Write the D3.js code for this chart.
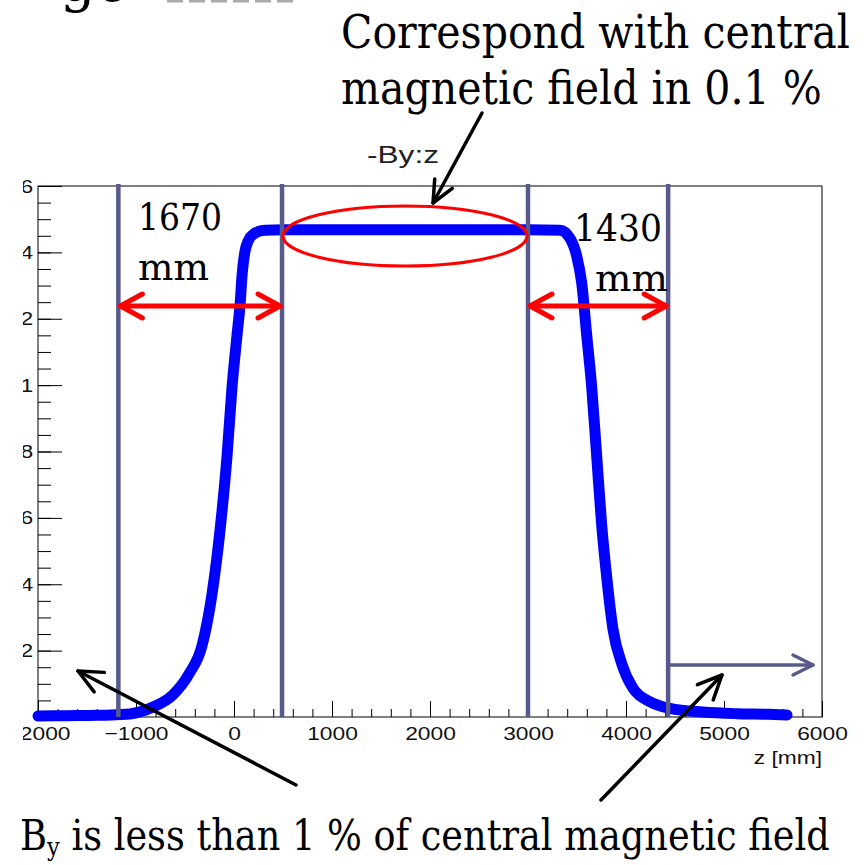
<!DOCTYPE html>
<html>
<head>
<meta charset="utf-8">
<script src="https://cdn.jsdelivr.net/npm/d3@7"></script>
<style>
  html, body { margin: 0; padding: 0; background: #fff; overflow: hidden; }
</style>
</head>
<body>
<div id="chart"></div>
<script>
// field profile -By(z)
const zValues = [-2000, -1700, -1400, -1200, -1061, -940, -827, -626, -459, -327, -224, -137, -71, -20, 31, 65, 82, 110, 149, 200, 250, 320, 500, 1000, 2000, 3000, 3327, 3429, 3497, 3548, 3599, 3650, 3701, 3752, 3803, 3867, 3956, 4071, 4245, 4449, 4786, 5133, 5450, 5643];
const byValues = [0.003, 0.004, 0.005, 0.007, 0.009, 0.017, 0.030, 0.066, 0.130, 0.214, 0.371, 0.578, 0.786, 0.994, 1.151, 1.254, 1.33, 1.40, 1.437, 1.455, 1.463, 1.467, 1.468, 1.468, 1.468, 1.468, 1.467, 1.442, 1.389, 1.308, 1.151, 0.994, 0.786, 0.578, 0.422, 0.265, 0.161, 0.087, 0.046, 0.026, 0.015, 0.010, 0.008, 0.006];

// vertical marker lines (z in mm) and the gaps between them
const markerZ = [-1180, 490, 3000, 4430];
const spanLabels = ["1670", "1430"];

const xTicks = [-2000, -1000, 0, 1000, 2000, 3000, 4000, 5000, 6000];
const xMinorTicks = d3.range(-2000, 6001, 200);
const yTicks = [0.2, 0.4, 0.6, 0.8, 1, 1.2, 1.4, 1.6];
const yMinorTicks = d3.range(0, 1.6001, 0.05);

const W = 865, H = 865;
const frame = { left: 38, right: 822, top: 186, bottom: 717 };
const serif = "Georgia, 'DejaVu Serif', serif";
const sans = "'Liberation Sans', Arial, Helvetica, sans-serif";
const markerColor = "#585a8e";

const svg = d3.select("#chart").append("svg")
    .attr("width", W)
    .attr("height", H);

svg.append("defs").append("clipPath").attr("id", "cut")
    .append("rect").attr("x", 23).attr("y", 0).attr("width", W).attr("height", H);

const x = d3.scaleLinear().domain([-2000, 6000]).range([frame.left, frame.right]);
const y = d3.scaleLinear().domain([0, 1.6]).range([frame.bottom, frame.top]);

// squeeze/stretch a text so it spans a given width
function fitText(g, str, px, py, width, size, family, anchor = "start") {
    const t = g.append("text")
        .attr("font-family", family)
        .attr("font-size", size)
        .attr("text-anchor", anchor)
        .attr("fill", "#000")
        .text(str);
    const w = t.node().getComputedTextLength();
    t.attr("transform", `translate(${px},${py}) scale(${width / w},1)`);
    return t;
}

// open chevron head pointing at (tx,ty) coming from (fx,fy)
function headPath(tx, ty, fx, fy, len, half) {
    const a = Math.atan2(ty - fy, tx - fx);
    const bx = tx - len * Math.cos(a), by = ty - len * Math.sin(a);
    const nx = -Math.sin(a) * half, ny = Math.cos(a) * half;
    return `M${bx + nx},${by + ny}L${tx},${ty}L${bx - nx},${by - ny}`;
}

function arrow(g, x1, y1, x2, y2, color, width, len, half, both = false) {
    g.append("line")
        .attr("x1", x1).attr("y1", y1).attr("x2", x2).attr("y2", y2)
        .attr("stroke", color).attr("stroke-width", width).attr("stroke-linecap", "round");
    const heads = [headPath(x2, y2, x1, y1, len, half)];
    if (both) heads.push(headPath(x1, y1, x2, y2, len, half));
    heads.forEach(p => g.append("path").attr("d", p)
        .attr("fill", "none").attr("stroke", color).attr("stroke-width", width)
        .attr("stroke-linecap", "round").attr("stroke-linejoin", "round"));
}

// 1. Frame and axes (left edge cut off like the source crop)
const axes = svg.append("g").attr("clip-path", "url(#cut)");

axes.append("rect")
    .attr("x", frame.left).attr("y", frame.top)
    .attr("width", frame.right - frame.left).attr("height", frame.bottom - frame.top)
    .attr("fill", "none").attr("stroke", "#000").attr("stroke-width", 1);

axes.append("g")
    .attr("transform", `translate(0,${frame.bottom})`)
    .call(d3.axisBottom(x).tickValues(xMinorTicks).tickSize(-8).tickFormat(""))
    .call(g => g.select(".domain").remove());

axes.append("g")
    .attr("transform", `translate(0,${frame.bottom})`)
    .call(d3.axisBottom(x).tickValues(xTicks).tickSize(-16).tickPadding(10).tickFormat(d3.format("d")))
    .call(g => g.select(".domain").remove())
    .selectAll("text")
    .attr("font-family", sans)
    .attr("font-size", 19)
    .attr("fill", "#111")
    .attr("transform", "scale(1.2,1)");

axes.append("g")
    .attr("transform", `translate(${frame.left},0)`)
    .call(d3.axisLeft(y).tickValues(yMinorTicks).tickSize(-13).tickFormat(""))
    .call(g => g.select(".domain").remove());

axes.append("g")
    .attr("transform", `translate(${frame.left},0)`)
    .call(d3.axisLeft(y).tickValues(yTicks).tickSize(-24).tickPadding(4).tickFormat(d3.format("~g")))
    .call(g => g.select(".domain").remove())
    .selectAll("text")
    .attr("font-family", sans)
    .attr("font-size", 19)
    .attr("fill", "#111")
    .attr("transform", "scale(1.2,1)");

svg.append("text")
    .attr("font-family", sans)
    .attr("font-size", 19)
    .attr("text-anchor", "end")
    .attr("fill", "#111")
    .attr("transform", `translate(${frame.right},764) scale(1.2,1)`)
    .text("z [mm]");

fitText(svg, "-By:z", 367, 163, 72, 24, sans).attr("fill", "#222");

// 2. Field curve
const pts = zValues.map((z, i) => [z, byValues[i]]);
svg.append("path")
    .datum(pts)
    .attr("d", d3.line().x(d => x(d[0])).y(d => y(d[1])).curve(d3.curveMonotoneX))
    .attr("fill", "none")
    .attr("stroke", "#0000ff")
    .attr("stroke-width", 11)
    .attr("stroke-linecap", "round")
    .attr("stroke-linejoin", "round");

// 3. Marker lines
svg.selectAll(".marker")
    .data(markerZ)
    .enter()
    .append("line")
    .attr("class", "marker")
    .attr("x1", d => x(d)).attr("x2", d => x(d))
    .attr("y1", 184).attr("y2", frame.bottom)
    .attr("stroke", markerColor)
    .attr("stroke-width", 4.5);

arrow(svg, x(markerZ[3]), 665, 813, 665, markerColor, 3.5, 20, 10);

// 4. Red annotations
arrow(svg, x(markerZ[0]) + 2, 306, x(markerZ[1]) - 2, 306, "#ff0000", 5, 22, 12, true);
arrow(svg, x(markerZ[2]) + 2, 306, x(markerZ[3]) - 2, 306, "#ff0000", 5, 22, 12, true);

svg.append("ellipse")
    .attr("cx", (x(markerZ[1]) + x(markerZ[2])) / 2)
    .attr("cy", 236)
    .attr("rx", (x(markerZ[2]) - x(markerZ[1])) / 2 - 1)
    .attr("ry", 30)
    .attr("fill", "none")
    .attr("stroke", "#ff0000")
    .attr("stroke-width", 3);

fitText(svg, spanLabels[0], 138, 230, 84, 38, serif);
fitText(svg, "mm", 138, 280, 71, 38, serif);
fitText(svg, spanLabels[1], 574, 241, 88, 38, serif);
fitText(svg, "mm", 595, 291, 73, 38, serif);

// 5. Slide text and black arrows
fitText(svg, "Correspond with central", 341, 48, 509, 46, serif);
fitText(svg, "magnetic field in 0.1 %", 341, 104, 481, 46, serif);

svg.append("text")
    .attr("x", 60).attr("y", 1)
    .attr("font-family", serif).attr("font-size", 56)
    .text("ge");
svg.append("line")
    .attr("x1", 167).attr("x2", 295).attr("y1", 1).attr("y2", 1)
    .attr("stroke", "#aaa").attr("stroke-width", 3).attr("stroke-dasharray", "16 6");

arrow(svg, 482, 113, 433, 203, "#000", 3.5, 22, 10);
arrow(svg, 296, 785, 78, 671, "#000", 3.5, 24, 11);
arrow(svg, 601, 800, 722, 675, "#000", 3.5, 24, 11);

const foot = svg.append("text")
    .attr("font-family", serif)
    .attr("font-size", 42)
    .attr("fill", "#000");
foot.append("tspan").text("B");
foot.append("tspan").attr("font-size", 26).attr("dy", 6).text("y");
foot.append("tspan").attr("dy", -6).text(" is less than 1 % of central magnetic field");
const fw = foot.node().getBBox().width;
foot.attr("transform", `translate(20,850) scale(${810 / fw},1)`);
</script>
</body>
</html>
